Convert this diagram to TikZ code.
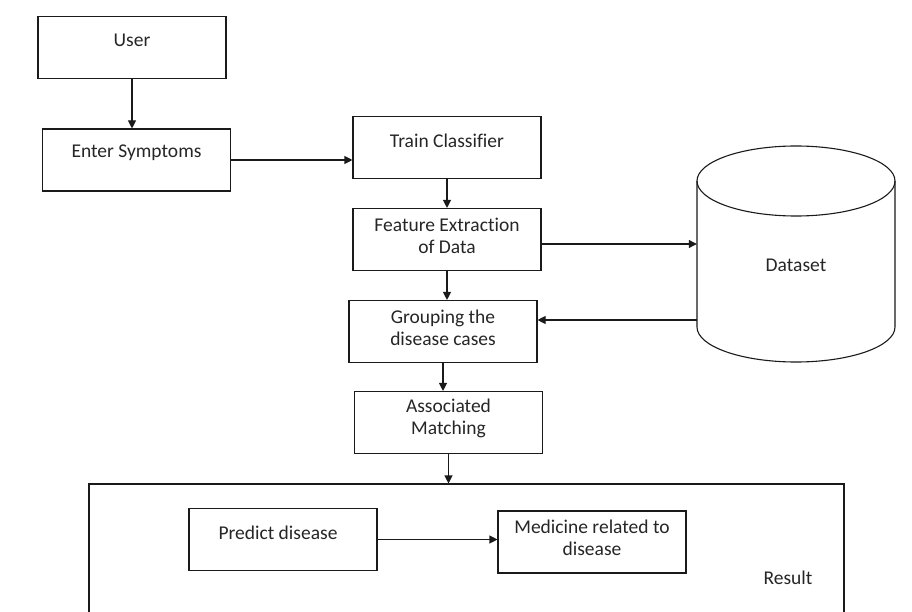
\documentclass[tikz,border=0pt]{standalone}
\usepackage{fontspec}
\setmainfont{Carlito}[Ligatures=NoCommon]
\usetikzlibrary{arrows.meta,calc}
\definecolor{ink}{HTML}{262626}
\definecolor{edge}{HTML}{1A1A1A}
\tikzset{
  box/.style={draw=edge, line width=1.1pt, minimum width=188pt, minimum height=62pt, inner sep=0pt},
  txt/.style={text=ink, font=\fontsize{19.5}{22}\selectfont, align=center, inner sep=0pt},
  one/.style={label={[txt,yshift=7pt]center:#1}},
  two/.style={label={[txt,yshift=4pt]center:#1}},
  arr/.style={draw=edge, line width=1.1pt, -{Triangle[length=8pt,width=8pt]}},
  cyl/.style={draw=edge, line width=1.1pt},
}
\begin{document}
\begin{tikzpicture}[x=1pt,y=-1pt]
\useasboundingbox (0,0) rectangle (912,612);
\clip (0,0) rectangle (912,612);
\fill[white] (0,0) rectangle (912,612);

% boxes
\node[box, one={User}] (user) at (132,47.5) {};
\node[box, one={Enter Symptoms}] (enter) at (136.5,160) {};
\node[box, one={Train Classifier}] (train) at (447,147.5) {};
\node[box, two={Feature Extraction\\of Data}] (feat) at (447,239.5) {};
\node[box, two={Grouping the\\disease cases}] (group) at (443,331.5) {};
\node[box, two={Associated\\Matching}] (assoc) at (448.5,422.5) {};

% dataset cylinder
\node[minimum width=198pt, minimum height=216pt, inner sep=0pt,
      label={[txt,yshift=-11pt]center:Dataset}] (data) at (796,254) {};
\draw[cyl] (697,181) -- (697,327) arc[start angle=180, end angle=360, x radius=99pt, y radius=35pt] -- (895,181);
\draw[cyl] (796,181) ellipse[x radius=99pt, y radius=35pt];

% result container
\node[draw=edge, line width=1.1pt, minimum width=755pt, minimum height=160pt, inner sep=0pt] (result) at (466.5,564) {};
\node[txt] (resultlabel) at (788,578) {Result};
\node[box, label={[txt,yshift=7pt,xshift=-5pt]center:Predict disease}] (predict) at (283,539.5) {};
\node[box, two={Medicine related to\\disease}] (med) at (592,542) {};

% connector anchor points
\coordinate (fd) at ($(feat.east)+(0,4.5)$);
\coordinate (dg) at ($(data.west)+(0,66)$);

% connectors
\draw[arr] (user.south) -- (user.south |- enter.north);
\draw[arr] (enter.east) -- (enter.east -| train.west);
\draw[arr] (train.south) -- (train.south |- feat.north);
\draw[arr] (feat.south) -- (feat.south |- group.north);
\draw[arr] (group.south) -- (group.south |- assoc.north);
\draw[arr] (assoc.south) -- (assoc.south |- result.north);
\draw[arr] (fd) -- (fd -| data.west);
\draw[arr] (dg) -- (dg -| group.east);
\draw[arr] (predict.east) -- (predict.east -| med.west);
\end{tikzpicture}
\end{document}
